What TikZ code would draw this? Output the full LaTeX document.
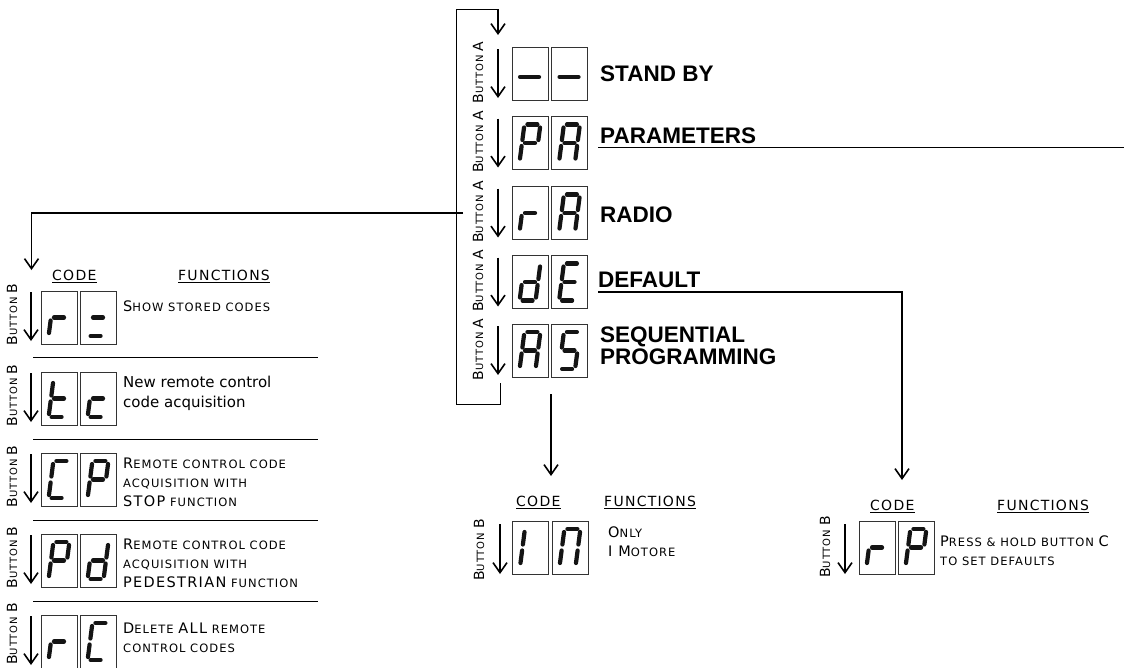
\documentclass[tikz,border=0pt]{standalone}
\usepackage{fontspec}
\setmainfont{DejaVu Sans}
\newfontfamily\biglab{Liberation Sans}
\newfontfamily\scf[LetterSpace=9]{DejaVu Sans}
\newfontfamily\mcf{DejaVu Sans}
\usetikzlibrary{arrows.meta}
\newcommand\Lc[1]{{\fontsize{14.5}{16}\selectfont #1}}
\newcommand\Lb[1]{{\fontsize{14}{15}\selectfont #1}}
\tikzset{
  box/.style={draw=black!80, line width=1pt, inner sep=0pt, minimum width=36pt, minimum height=53pt},
  seg/.style={line width=4.2pt, line cap=round, draw=black!92},
  tip/.style={-{Straight Barb[length=10pt,width=14pt,line width=1.6pt]}},
  arr/.style={line width=1.4pt, tip},
  ln/.style={line width=1pt},
  big/.style={font=\biglab\bfseries\fontsize{22.5}{26}\selectfont, inner sep=0pt, anchor=base west},
  sc/.style={font=\scf\fontsize{11.5}{13}\selectfont, inner sep=0pt, anchor=base west},
  hd/.style={font=\scf\fontsize{14}{16}\selectfont, inner sep=0pt, anchor=base west},
  mc/.style={font=\mcf\fontsize{15}{17}\selectfont, inner sep=0pt, anchor=base west},
  btn/.style={font=\scf\fontsize{10}{11}\selectfont, inner sep=0pt, rotate=90},
}
\newcommand\SeGa{\draw[seg] (-5,37) -- (5,37);}
\newcommand\SeGb{\draw[seg] (8,34) -- (8,21.5);}
\newcommand\SeGc{\draw[seg] (8,15.5) -- (8,3);}
\newcommand\SeGd{\draw[seg] (-5,0) -- (5,0);}
\newcommand\SeGe{\draw[seg] (-8,15.5) -- (-8,3);}
\newcommand\SeGf{\draw[seg] (-8,34) -- (-8,21.5);}
\newcommand\SeGg{\draw[seg] (-5,18.5) -- (5,18.5);}
\newcommand\SeGdash{\draw[seg] (-9.5,15) -- (9.5,15);}
\newcommand\dbox[4]{%
  \node[box] (#1) at (#2,#3) {};
  \begin{scope}[shift={(#2-2.4,#3+18.5)}, xslant=0.13, y=1pt]
    \foreach \s in {#4}{\csname SeG\s\endcsname}
  \end{scope}}
\begin{document}
\begin{tikzpicture}[x=1pt,y=-1pt]
\fill[white] (0,0) rectangle (1124,667);
\useasboundingbox (0,0) rectangle (1124,667);

% ---------- top menu ----------
\dbox{s1a}{530}{73.5}{dash}
\dbox{s1b}{569.5}{73.5}{dash}
\dbox{s2a}{530}{143}{a,b,f,g,e}
\dbox{s2b}{569.5}{143}{a,b,c,e,f,g}
\dbox{s3a}{530}{213}{e,g}
\dbox{s3b}{569.5}{213}{a,b,c,e,f,g}
\dbox{s4a}{530}{282}{b,c,d,e,g}
\dbox{s4b}{569.5}{282}{a,d,e,f,g}
\dbox{s5a}{530}{350.5}{a,b,c,e,f,g}
\dbox{s5b}{569.5}{350.5}{a,f,g,c,d}

\foreach \cy [count=\i] in {73.5,143,213,282,350.5}{
  \draw[arr] (498,\cy-24.5) -- (498,\cy+24.5);
  \node[btn] (ba\i) at (478,\cy-1) {\Lb{B}UTTON \Lb{A}};
}

\node[big] (sb) at (600,81) {STAND BY};
\node[big] (pa) at (600,143.5) {PARAMETERS};
\node[big] (ra) at (600,222) {RADIO};
\node[big] (de) at (598,287) {DEFAULT};
\node[big] (sq) at (600,342) {SEQUENTIAL};
\node[big] (pg) at (600,364) {PROGRAMMING};

% loop bracket
\coordinate (lpS) at (500,383);
\coordinate (lpT) at (498,9);
\coordinate (lpE) at (498,35);
\draw[ln] (lpS) -- (500,404) -- (456,404) -- (456,9) -- (lpT);
\draw[arr] (lpT) -- (lpE);

% parameters underline
\coordinate (paU) at (598,147);
\coordinate (paR) at (1124,147);
\draw[ln] (paU) -- (paR);

% radio connector
\coordinate (raT) at (463,213);
\coordinate (lgT) at (31.5,270);
\draw[line width=1.2pt, tip] (raT) -| (lgT);

% default connector
\coordinate (deU) at (598,292);
\coordinate (rgT) at (902,480);
\draw[line width=1.2pt, tip] (deU) -| (rgT);

% sequential connector
\coordinate (sqB) at (551,394);
\coordinate (mgT) at (551,476);
\draw[arr] (sqB) -- (mgT);

% ---------- left group (radio) ----------
\node[hd] (lcode) at (52,280) {CODE};
\node[hd] (lfun) at (178,280) {FUNCTIONS};
\draw[ln] ([yshift=-2pt]lcode.base west) -- ([yshift=-2pt]lcode.base east);
\draw[ln] ([yshift=-2pt]lfun.base west) -- ([yshift=-2pt]lfun.base east);

\dbox{l1a}{59}{317.5}{e,g}
\dbox{l1b}{98}{317.5}{g,d}
\dbox{l2a}{59}{398.5}{d,e,f,g}
\dbox{l2b}{98}{398.5}{d,e,g}
\dbox{l3a}{59}{479.5}{a,d,e,f}
\dbox{l3b}{98}{479.5}{a,b,f,g,e}
\dbox{l4a}{59}{560.5}{a,b,f,g,e}
\dbox{l4b}{98}{560.5}{b,c,d,e,g}
\dbox{l5a}{59}{641.5}{e,g}
\dbox{l5b}{98}{641.5}{a,d,e,f}

\foreach \cy [count=\i] in {317.5,398.5,479.5,560.5}{
  \draw[arr] (31,\cy-25.5) -- (31,\cy+23.5);
  \node[btn] (bb\i) at (12,\cy-3) {\Lb{B}UTTON \Lb{B}};
}
\draw[arr] (31,616) -- (31,665);
\node[btn] (bb5) at (12,634) {\Lb{B}UTTON \Lb{B}};
\foreach \yy in {357,439,520,601}{
  \draw[ln] (33,\yy) -- (318,\yy);
}

\node[sc] (t1) at (123,311) {\Lc{S}HOW STORED CODES};
\node[mc] (t2a) at (123,387) {New remote control};
\node[mc] (t2b) at (123,407) {code acquisition};
\node[sc] (t3a) at (123,468) {\Lc{R}EMOTE CONTROL CODE};
\node[sc] (t3b) at (123,487) {ACQUISITION WITH};
\node[sc] (t3c) at (123,506) {\Lc{STOP} FUNCTION};
\node[sc] (t4a) at (123,549) {\Lc{R}EMOTE CONTROL CODE};
\node[sc] (t4b) at (123,568) {ACQUISITION WITH};
\node[sc] (t4c) at (123,587) {\Lc{PEDESTRIAN} FUNCTION};
\node[sc] (t5a) at (123,633) {\Lc{D}ELETE \Lc{ALL} REMOTE};
\node[sc] (t5b) at (123,652) {CONTROL CODES};

% ---------- middle group ----------
\node[hd] (mcode) at (516,506) {CODE};
\node[hd] (mfun) at (604,506) {FUNCTIONS};
\draw[ln] ([yshift=-2pt]mcode.base west) -- ([yshift=-2pt]mcode.base east);
\draw[ln] ([yshift=-2pt]mfun.base west) -- ([yshift=-2pt]mfun.base east);
\dbox{m1a}{530.5}{547.5}{e,f}
\dbox{m1b}{570}{547.5}{a,b,c,e,f}
\draw[arr] (500,524) -- (500,574);
\node[btn] (bm) at (479,550) {\Lb{B}UTTON \Lb{B}};
\node[sc] (m1) at (608,537) {\Lc{O}NLY};
\node[sc] (m2) at (608,556) {\Lc{I M}OTORE};

% ---------- right group ----------
\node[hd] (rcode) at (870,510) {CODE};
\node[hd] (rfun) at (997,510) {FUNCTIONS};
\draw[ln] ([yshift=-2pt]rcode.base west) -- ([yshift=-2pt]rcode.base east);
\draw[ln] ([yshift=-2pt]rfun.base west) -- ([yshift=-2pt]rfun.base east);
\dbox{r1a}{877}{547.5}{e,g}
\dbox{r1b}{916}{547.5}{a,b,f,g,e}
\draw[arr] (845,524) -- (845,574);
\node[btn] (br) at (825,547) {\Lb{B}UTTON \Lb{B}};
\node[sc] (r1) at (940,546) {\Lc{P}RESS \& HOLD BUTTON \Lc{C}};
\node[sc] (r2) at (940,565) {TO SET DEFAULTS};
\end{tikzpicture}
\end{document}
